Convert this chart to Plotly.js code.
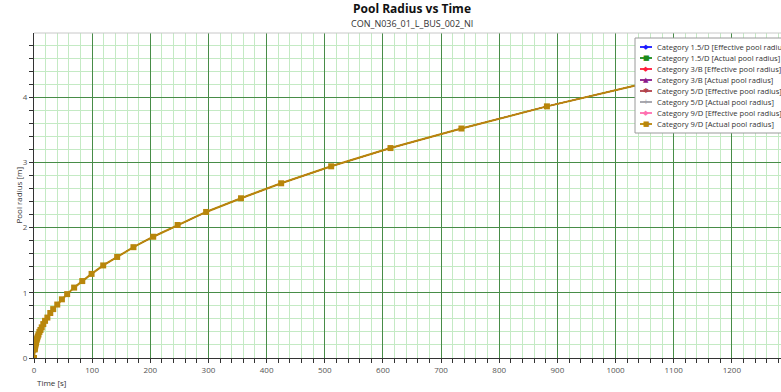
<!DOCTYPE html>
<html>
<head>
<meta charset="utf-8">
<script src="https://cdn.plot.ly/plotly-3.0.1.min.js"></script>
<style>
html,body{margin:0;padding:0;overflow:hidden;background:#fff;}
#chart{width:800px;height:392px;}
</style>
</head>
<body>
<div id="chart"></div>
<script>
// ---- data ----
const timeS = [0, 1.0, 1.2, 1.5, 1.8, 2.2, 2.6, 3.1, 3.7, 4.5, 5.4, 6.4, 7.7, 9.3, 11.1, 13.3, 16, 19, 23, 28, 33, 40, 48, 57, 69, 83, 99, 119, 143, 171, 205, 247, 296, 356, 425, 511, 613, 735, 882, 1058, 1270];
const poolRadius = [0, 0.13, 0.14, 0.16, 0.17, 0.19, 0.21, 0.23, 0.25, 0.28, 0.30, 0.33, 0.36, 0.40, 0.43, 0.47, 0.52, 0.57, 0.62, 0.69, 0.75, 0.82, 0.90, 0.98, 1.08, 1.18, 1.29, 1.42, 1.55, 1.70, 1.86, 2.04, 2.24, 2.45, 2.68, 2.94, 3.22, 3.52, 3.86, 4.23, 4.63];
const seriesNames = [
  "Category 1.5/D [Effective pool radius]",
  "Category 1.5/D [Actual pool radius]",
  "Category 3/B [Effective pool radius]",
  "Category 3/B [Actual pool radius]",
  "Category 5/D [Effective pool radius]",
  "Category 5/D [Actual pool radius]",
  "Category 9/D [Effective pool radius]",
  "Category 9/D [Actual pool radius]"
];
const seriesColors = ["#1a1aff", "#1a8a1a", "#ff1a3a", "#8a1a8a", "#b0404a", "#a0a0a8", "#ff6fb0", "#b8860b"];
const seriesGlyphs = ["\u25C6", "\u25A0", "\u25C6", "\u25B2", "\u2731", "+", "\u25C6", "\u25A0"];
const chartTitle = "Pool Radius vs Time";
const chartSubtitle = "CON_N036_01_L_BUS_002_NI";
const xTitle = "Time [s]";
const yTitle = "Pool radius [m]";

// ---- layout geometry ----
const W = 800, H = 392;
const M = {l: 34, r: 10, t: 33, b: 34};
const pw = W - M.l - M.r, ph = H - M.t - M.b;
const px2x = p => (p - M.l) / pw;
const py2y = p => (H - M.b - p) / ph;

const FONT = "Open Sans, Noto Sans, DejaVu Sans, sans-serif";

const traces = seriesNames.map((name, i) => {
  const last = i === seriesNames.length - 1;
  return {
    type: "scatter",
    x: timeS,
    y: poolRadius,
    name: name,
    mode: last ? "lines+markers" : "lines",
    line: {color: seriesColors[i], width: last ? 2 : 1},
    marker: {color: seriesColors[i], symbol: "square", size: 6},
    showlegend: false,
    hoverinfo: "x+y+name"
  };
});

// custom legend (compact, like the reference)
const shapes = [];
const annotations = [];
const legTop = 38, legBottom = 133, legLeft = 635, rowY0 = 47, rowStep = 11;
shapes.push({type: "rect", xref: "paper", yref: "paper",
  x0: px2x(legLeft), x1: px2x(W + 5), y0: py2y(legBottom), y1: py2y(legTop),
  fillcolor: "#ffffff", line: {color: "#9a9a9a", width: 1}, layer: "above"});
seriesNames.forEach((name, i) => {
  const py = rowY0 + i * rowStep;
  shapes.push({type: "line", xref: "paper", yref: "paper",
    x0: px2x(640), x1: px2x(652), y0: py2y(py), y1: py2y(py),
    line: {color: seriesColors[i], width: 1.8}, layer: "above"});
  annotations.push({xref: "paper", yref: "paper", x: px2x(646), y: py2y(py),
    text: seriesGlyphs[i], showarrow: false, xanchor: "center", yanchor: "middle",
    font: {family: "DejaVu Sans", size: 7, color: seriesColors[i]}});
  annotations.push({xref: "paper", yref: "paper", x: px2x(655), y: py2y(py),
    text: name, showarrow: false, xanchor: "left", yanchor: "middle",
    font: {family: FONT, size: 7.6, color: "#333333"}});
});

annotations.push({xref: "paper", yref: "paper", x: 0.5, y: py2y(23),
  text: chartSubtitle, showarrow: false, xanchor: "center", yanchor: "middle",
  font: {family: FONT, size: 9, color: "#333333"}});
annotations.push({xref: "paper", yref: "paper", x: px2x(35), y: py2y(382),
  text: xTitle, showarrow: false, xanchor: "left", yanchor: "middle",
  font: {family: FONT, size: 8, color: "#333333"}});
annotations.push({xref: "paper", yref: "paper", x: px2x(18), y: 0.5,
  text: yTitle, showarrow: false, xanchor: "center", yanchor: "middle", textangle: -90,
  font: {family: FONT, size: 8, color: "#333333"}});

const majorGrid = "rgb(72,140,72)";
const minorGrid = "rgb(196,234,196)";

const layout = {
  width: W, height: H,
  margin: M,
  paper_bgcolor: "#ffffff",
  plot_bgcolor: "#ffffff",
  showlegend: false,
  font: {family: FONT, size: 8, color: "#555555"},
  title: {text: "<b>" + chartTitle + "</b>", x: 0.5 * pw / W + M.l / W, xanchor: "center",
    y: 1 - 9 / H, yanchor: "middle", yref: "container",
    font: {family: FONT, size: 12, color: "#111111"}},
  xaxis: {
    range: [0, 1300], dtick: 100, tick0: 0,
    showgrid: true, gridcolor: majorGrid, gridwidth: 1,
    zeroline: false, showline: true, linecolor: "#333333", linewidth: 1,
    ticks: "outside", ticklen: 4, tickcolor: "#333333",
    tickfont: {family: FONT, size: 8, color: "#555555"},
    minor: {dtick: 20, showgrid: true, gridcolor: minorGrid, griddash: "solid", gridwidth: 1,
      ticks: "outside", ticklen: 4, tickcolor: "#333333"},
    fixedrange: true
  },
  yaxis: {
    range: [0, 4.985], dtick: 1, tick0: 0,
    showgrid: true, gridcolor: majorGrid, gridwidth: 1,
    zeroline: false, showline: true, linecolor: "#333333", linewidth: 1,
    ticks: "outside", ticklen: 4, tickcolor: "#333333",
    tickfont: {family: FONT, size: 8, color: "#555555"},
    minor: {dtick: 0.2, showgrid: true, gridcolor: minorGrid, griddash: "solid", gridwidth: 1,
      ticks: "outside", ticklen: 4, tickcolor: "#333333"},
    fixedrange: true
  },
  shapes: [{type: "line", xref: "paper", yref: "paper", x0: 0, x1: 1, y0: 1, y1: 1,
    line: {color: "#c8c8c8", width: 1}}].concat(shapes),
  annotations: annotations
};

Plotly.newPlot("chart", traces, layout, {displayModeBar: false, staticPlot: true});
</script>
</body>
</html>
